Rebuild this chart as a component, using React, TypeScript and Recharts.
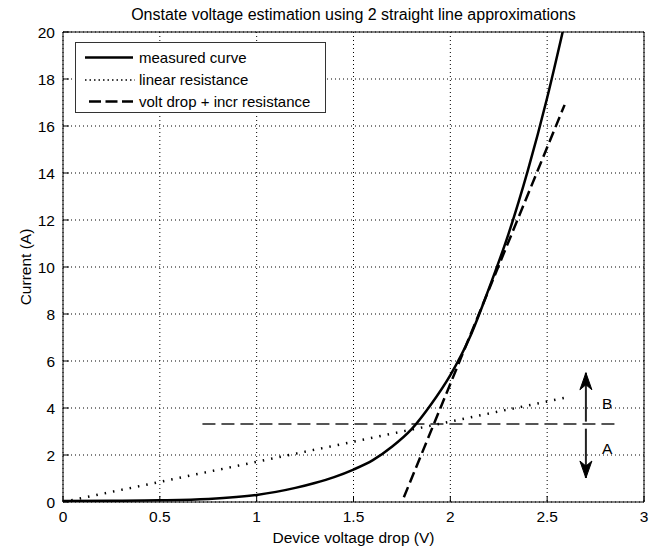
import React from 'react';
import {
  ComposedChart, Line, XAxis, YAxis, CartesianGrid, Legend, ReferenceDot,
} from 'recharts';

const FONT = '"Liberation Sans", Arial, Helvetica, sans-serif';

const title = 'Onstate voltage estimation using 2 straight line approximations';
const xLabel = 'Device voltage drop (V)';
const yLabel = 'Current (A)';

const xTicks = [0, 0.5, 1, 1.5, 2, 2.5, 3];
const yTicks = [0, 2, 4, 6, 8, 10, 12, 14, 16, 18, 20];

// measured curve
const measuredV = [0, 0.25, 0.5, 0.75, 1.0, 1.1, 1.2, 1.3, 1.4, 1.5, 1.6, 1.7, 1.8, 1.9, 2.0, 2.1, 2.2, 2.3, 2.4, 2.5, 2.58];
const measuredI = [0.04, 0.05, 0.07, 0.13, 0.3, 0.43, 0.6, 0.81, 1.06, 1.38, 1.78, 2.36, 3.1, 4.15, 5.4, 7.0, 9.1, 11.4, 14.1, 17.2, 20];

// linear resistance approximation
const linearV = [0, 2.6];
const linearI = [0, 4.45];

// volt drop + incremental resistance approximation
const incrV = [1.76, 2.59];
const incrI = [0.2, 16.9];

// horizontal reference (dashed gray)
const hlineV = [0.72, 2.87];
const hlineI = [3.32, 3.32];

// arrows
const arrowUpV = [2.7, 2.7];
const arrowUpI = [3.42, 5.5];
const arrowDownV = [2.7, 2.7];
const arrowDownI = [3.12, 1.02];

// annotation labels
const annoText = ['B', 'A'];
const annoV = [2.81, 2.81];
const annoI = [4.21, 2.26];

const toPts = (vs: number[], is: number[]) => vs.map((v, k) => ({ v, i: is[k] }));

const measured = toPts(measuredV, measuredI);
const linear = toPts(linearV, linearI);
const incr = toPts(incrV, incrI);
const hline = toPts(hlineV, hlineI);
const arrowUp = toPts(arrowUpV, arrowUpI);
const arrowDown = toPts(arrowDownV, arrowDownI);

const arrowHead = (dir: number) => (props: any) => {
  const { cx, cy, index } = props;
  if (index !== 1 || cx == null || cy == null) return <g key={`a${dir}${index}`} />;
  const pts = `${cx},${cy} ${cx - 6},${cy + 17 * dir} ${cx},${cy + 12 * dir} ${cx + 6},${cy + 17 * dir}`;
  return <polygon key={`a${dir}${index}`} points={pts} fill="#000" stroke="#000" strokeWidth={1} />;
};

const LegendBox = () => (
  <div style={{ width: 251, height: 71, boxSizing: 'border-box', border: '1px solid #333', background: '#fff' }}>
    <svg width={249} height={69} style={{ display: 'block' }}>
      <line x1={9} y1={14.5} x2={57} y2={14.5} stroke="#000" strokeWidth={2.5} />
      <text x={63} y={14.5} dy="0.355em" fontSize={15} fontFamily={FONT} fill="#000">measured curve</text>
      <line x1={9} y1={37} x2={59} y2={37} stroke="#000" strokeWidth={1.5} strokeDasharray="1.5 3" />
      <text x={63} y={37} dy="0.355em" fontSize={15} fontFamily={FONT} fill="#000">linear resistance</text>
      <line x1={13} y1={58.5} x2={57} y2={58.5} stroke="#000" strokeWidth={2.5} strokeDasharray="12 4.5" />
      <text x={63} y={58.5} dy="0.355em" fontSize={15} fontFamily={FONT} fill="#000">volt drop + incr resistance</text>
    </svg>
  </div>
);

export default function App() {
  const tickStyle = { fill: '#000', fontSize: 15.5, fontFamily: FONT };
  return (
    <div style={{ position: 'absolute', left: 0, top: 0, background: '#fff' }}>
      <ComposedChart width={657} height={549} margin={{ top: 31, right: 12, bottom: 0, left: 8 }}>
        <CartesianGrid xAxisId="b" yAxisId="l" stroke="#000" strokeDasharray="1 3" strokeWidth={1} />
        <XAxis
          xAxisId="b" dataKey="v" type="number" domain={[0, 3]} ticks={xTicks} height={47}
          tickSize={-6} tickMargin={15} tick={tickStyle} axisLine={{ stroke: '#000' }} tickLine={{ stroke: '#000' }}
          allowDataOverflow
          label={{ value: xLabel, position: 'insideBottom', offset: 6, fill: '#000', fontSize: 15.5, fontFamily: FONT }}
        />
        <XAxis
          xAxisId="t" orientation="top" dataKey="v" type="number" domain={[0, 3]} ticks={xTicks} height={1}
          tickSize={-6} tick={false} axisLine={{ stroke: '#000' }} tickLine={{ stroke: '#000' }}
          allowDataOverflow
          label={{ value: title, position: 'top', offset: 11, fill: '#000', fontSize: 16, fontFamily: FONT }}
        />
        <YAxis
          yAxisId="l" type="number" domain={[0, 20]} ticks={yTicks} width={55}
          tickSize={-6} tickMargin={14} tick={tickStyle} axisLine={{ stroke: '#000' }} tickLine={{ stroke: '#000' }}
          allowDataOverflow
          label={{
            content: (p: any) => {
              const vb = p.viewBox;
              const cx = vb.x + 17;
              const cy = vb.y + vb.height / 2;
              return (
                <text x={cx} y={cy} dy="0.355em" textAnchor="middle" transform={`rotate(-90, ${cx}, ${cy})`}
                  fontSize={15.5} fontFamily={FONT} fill="#000">{yLabel}</text>
              );
            },
          }}
        />
        <YAxis
          yAxisId="r" orientation="right" type="number" domain={[0, 20]} ticks={yTicks} width={1}
          tickSize={-6} tick={false} axisLine={{ stroke: '#000' }} tickLine={{ stroke: '#000' }}
          allowDataOverflow
        />
        <Legend
          layout="vertical" align="center" verticalAlign="middle"
          wrapperStyle={{ left: 75, top: 42, width: 251, height: 71 }}
          content={() => <LegendBox />}
        />
        <Line xAxisId="b" yAxisId="l" data={hline} dataKey="i" type="linear" stroke="#555" strokeWidth={2}
          strokeDasharray="13 6" dot={false} isAnimationActive={false} legendType="none" />
        <Line xAxisId="b" yAxisId="l" data={linear} dataKey="i" type="linear" stroke="#000" strokeWidth={2.5}
          strokeDasharray="1.5 7" dot={false} isAnimationActive={false} />
        <Line xAxisId="b" yAxisId="l" data={incr} dataKey="i" type="linear" stroke="#000" strokeWidth={2.5}
          strokeDasharray="11 5" dot={false} isAnimationActive={false} />
        <Line xAxisId="b" yAxisId="l" data={measured} dataKey="i" type="monotone" stroke="#000" strokeWidth={2.5}
          dot={false} isAnimationActive={false} />
        <Line xAxisId="b" yAxisId="l" data={arrowUp} dataKey="i" type="linear" stroke="#222" strokeWidth={2}
          dot={arrowHead(1)} isAnimationActive={false} legendType="none" />
        <Line xAxisId="b" yAxisId="l" data={arrowDown} dataKey="i" type="linear" stroke="#222" strokeWidth={2}
          dot={arrowHead(-1)} isAnimationActive={false} legendType="none" />
        {annoText.map((t, k) => (
          <ReferenceDot key={t} xAxisId="b" yAxisId="l" x={annoV[k]} y={annoI[k]} r={0}
            shape={(p: any) => (
              <text x={p.cx} y={p.cy} dy="0.355em" textAnchor="middle" fontSize={15.5} fontFamily={FONT} fill="#000">{t}</text>
            )}
          />
        ))}
      </ComposedChart>
    </div>
  );
}
